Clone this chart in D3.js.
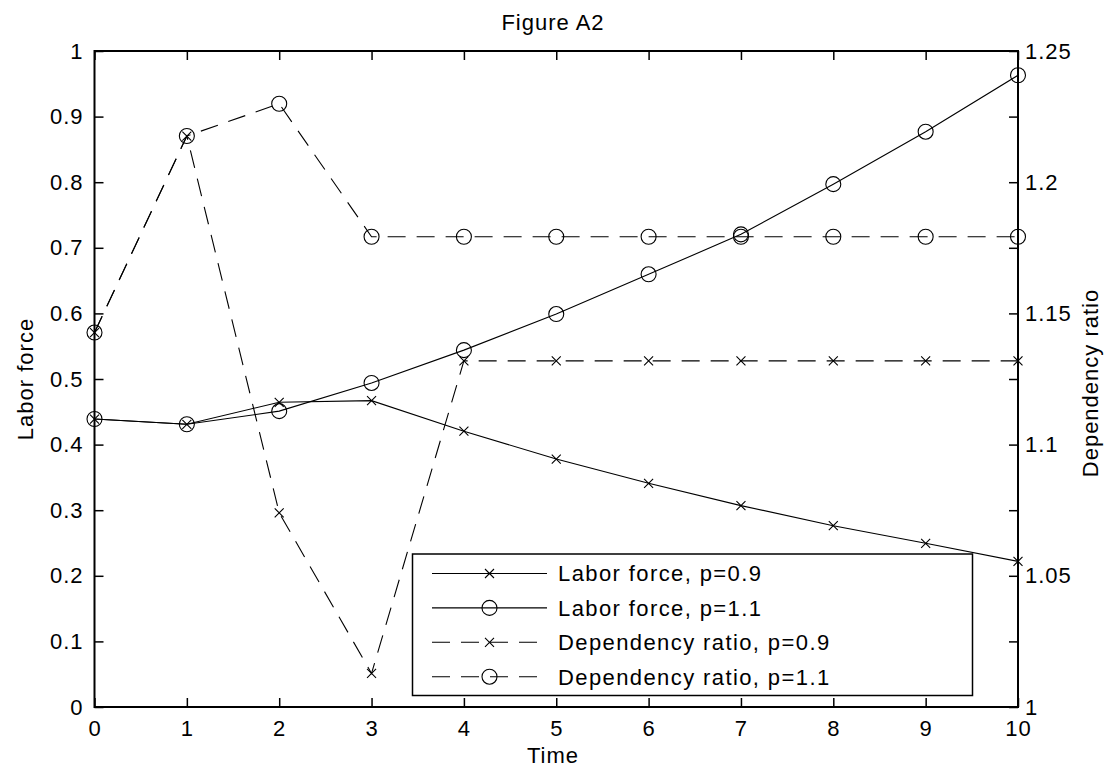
<!DOCTYPE html>
<html>
<head>
<meta charset="utf-8">
<script src="https://cdn.jsdelivr.net/npm/d3@7/dist/d3.min.js"></script>
<style>
  html, body { margin: 0; padding: 0; background: #fff; }
  svg { display: block; }
  text { font-family: "Liberation Sans", Arial, Helvetica, sans-serif; fill: #000; }
</style>
</head>
<body>
<svg id="chart" width="1107" height="767"></svg>
<script>
// ---------- data ----------
const time = [0, 1, 2, 3, 4, 5, 6, 7, 8, 9, 10];
const laborP09 = [0.439, 0.431, 0.4645, 0.467, 0.4205, 0.378, 0.341, 0.307, 0.2764, 0.2495, 0.222];
const laborP11 = [0.439, 0.431, 0.451, 0.494, 0.544, 0.599, 0.6596, 0.7205, 0.797, 0.877, 0.963];
const depP09 = [1.1427, 1.2176, 1.074, 1.0128, 1.1319, 1.1319, 1.1319, 1.1319, 1.1319, 1.1319, 1.1319];
const depP11 = [1.1427, 1.2176, 1.2299, 1.1792, 1.1792, 1.1792, 1.1792, 1.1792, 1.1792, 1.1792, 1.1792];

const xTicks = [0, 1, 2, 3, 4, 5, 6, 7, 8, 9, 10];
const leftTicks = [0, 0.1, 0.2, 0.3, 0.4, 0.5, 0.6, 0.7, 0.8, 0.9, 1];
const rightTicks = [1, 1.025, 1.05, 1.075, 1.1, 1.125, 1.15, 1.175, 1.2, 1.225, 1.25];
const rightLabels = { "1": "1", "1.05": "1.05", "1.1": "1.1", "1.15": "1.15", "1.2": "1.2", "1.25": "1.25" };

const titleText = "Figure A2";
const xLabel = "Time";
const yLeftLabel = "Labor force";
const yRightLabel = "Dependency ratio";

const seriesNames = ["Labor force, p=0.9", "Labor force, p=1.1", "Dependency ratio, p=0.9", "Dependency ratio, p=1.1"];

// ---------- layout ----------
const L = 94.5, R = 1018, T = 51, B = 707;
const svg = d3.select("#chart");

const x = d3.scaleLinear().domain([0, 10]).range([L, R]);
const yL = d3.scaleLinear().domain([0, 1]).range([B, T]);
const yR = d3.scaleLinear().domain([1, 1.25]).range([B, T]);

const FS = 22;
const DASH = "18,11";

const series = [
  { name: seriesNames[0], values: laborP09, y: yL, marker: "x", dash: null },
  { name: seriesNames[1], values: laborP11, y: yL, marker: "o", dash: null },
  { name: seriesNames[2], values: depP09, y: yR, marker: "x", dash: DASH },
  { name: seriesNames[3], values: depP11, y: yR, marker: "o", dash: DASH }
];

function drawMarker(g, type, cx, cy) {
  if (type === "o") {
    g.append("circle").attr("cx", cx).attr("cy", cy).attr("r", 7.5)
      .attr("fill", "none").attr("stroke", "#000").attr("stroke-width", 1.1);
  } else {
    const s = 4.5;
    g.append("path")
      .attr("d", `M${cx - s},${cy - s}L${cx + s},${cy + s}M${cx - s},${cy + s}L${cx + s},${cy - s}`)
      .attr("stroke", "#000").attr("stroke-width", 1.1).attr("fill", "none");
  }
}

// ---------- series ----------
const plot = svg.append("g");
series.forEach(s => {
  const line = d3.line().x((d, i) => x(time[i])).y(d => s.y(d));
  plot.append("path").datum(s.values)
    .attr("d", line)
    .attr("fill", "none").attr("stroke", "#000").attr("stroke-width", 1.1)
    .attr("stroke-dasharray", s.dash);
  s.values.forEach((v, i) => drawMarker(plot, s.marker, x(time[i]), s.y(v)));
});

// ---------- axes ----------
function styleAxis(g) {
  g.select(".domain").remove();
  g.selectAll(".tick line").attr("stroke", "#000").attr("stroke-width", 1.5);
  g.selectAll(".tick text").attr("font-size", FS).attr("letter-spacing", "1px")
    .attr("font-family", "Liberation Sans, Arial, sans-serif").attr("fill", "#000");
}

svg.append("g").attr("transform", `translate(0,${B})`)
  .call(d3.axisBottom(x).tickValues(xTicks).tickFormat(d3.format("d")).tickSizeInner(-9).tickSizeOuter(0).tickPadding(13))
  .call(styleAxis);

svg.append("g").attr("transform", `translate(0,${T})`)
  .call(d3.axisTop(x).tickValues(xTicks).tickFormat("").tickSizeInner(-9).tickSizeOuter(0))
  .call(styleAxis);

svg.append("g").attr("transform", `translate(${L},0)`)
  .call(d3.axisLeft(yL).tickValues(leftTicks).tickFormat(d => d3.format("")(+d.toFixed(1))).tickSizeInner(-9).tickSizeOuter(0).tickPadding(11))
  .call(styleAxis);

svg.append("g").attr("transform", `translate(${R},0)`)
  .call(d3.axisRight(yR).tickValues(rightTicks)
    .tickFormat(d => rightLabels[String(+d.toFixed(3))] || "")
    .tickSizeInner(-9).tickSizeOuter(0).tickPadding(7))
  .call(styleAxis);

// frame
svg.append("rect").attr("x", L).attr("y", T).attr("width", R - L).attr("height", B - T)
  .attr("fill", "none").attr("stroke", "#000").attr("stroke-width", 2);

// ---------- labels ----------
svg.append("text").attr("x", 553).attr("y", 30).attr("text-anchor", "middle")
  .attr("font-size", FS).attr("letter-spacing", "1px").text(titleText);

svg.append("text").attr("x", 553).attr("y", 763).attr("text-anchor", "middle")
  .attr("font-size", FS).attr("letter-spacing", "1px").text(xLabel);

svg.append("text").attr("transform", `translate(33,${(T + B) / 2}) rotate(-90)`)
  .attr("text-anchor", "middle").attr("font-size", FS).attr("letter-spacing", "1px").text(yLeftLabel);

svg.append("text").attr("transform", `translate(1098,${(T + B) / 2 + 4}) rotate(-90)`)
  .attr("text-anchor", "middle").attr("font-size", FS).attr("letter-spacing", "1px").text(yRightLabel);

// ---------- legend ----------
const lg = svg.append("g");
const lx0 = 412.5, ly0 = 554, lw = 560, lh = 141.5;
lg.append("rect").attr("x", lx0).attr("y", ly0).attr("width", lw).attr("height", lh)
  .attr("fill", "#fff").attr("stroke", "#000").attr("stroke-width", 1.5);
series.forEach((s, i) => {
  const yy = 573.5 + i * 34.4;
  lg.append("line").attr("x1", 432).attr("x2", 547).attr("y1", yy).attr("y2", yy)
    .attr("stroke", "#000").attr("stroke-width", 1.1).attr("stroke-dasharray", s.dash);
  drawMarker(lg, s.marker, 489.5, yy);
  lg.append("text").attr("x", 558).attr("y", yy).attr("dy", "0.36em")
    .attr("font-size", FS).attr("letter-spacing", "1.4px").text(s.name);
});
</script>
</body>
</html>
